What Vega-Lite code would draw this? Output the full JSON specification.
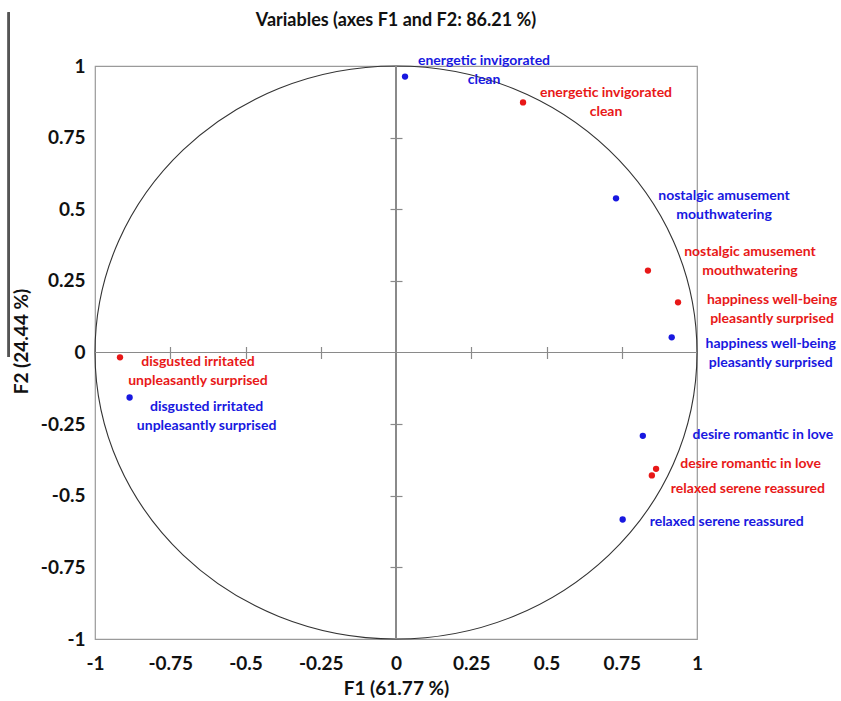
{
  "$schema": "https://vega.github.io/schema/vega-lite/v6.json",
  "width": 602,
  "height": 573,
  "autosize": "none",
  "padding": {"left": 95, "top": 66, "right": 144, "bottom": 62},
  "background": "white",
  "config": {
    "view": {"stroke": "#9a9a9a", "strokeWidth": 1.2},
    "font": "Lato"
  },
  "title": {
    "text": "Variables (axes F1 and F2: 86.21 %)",
    "font": "Lato",
    "fontSize": 18,
    "fontWeight": "bold",
    "color": "#111",
    "anchor": "middle",
    "baseline": "middle",
    "offset": -28
  },
  "data": {
    "values": [
      {"id": "b_ener", "group": "G1", "f1": 0.03, "f2": 0.963, "label": "energetic  invigorated|clean"},
      {"id": "r_ener", "group": "G2", "f1": 0.422, "f2": 0.873, "label": "energetic invigorated|clean"},
      {"id": "b_nost", "group": "G1", "f1": 0.731, "f2": 0.538, "label": "nostalgic  amusement|mouthwatering"},
      {"id": "r_nost", "group": "G2", "f1": 0.837, "f2": 0.286, "label": "nostalgic amusement|mouthwatering"},
      {"id": "r_happ", "group": "G2", "f1": 0.937, "f2": 0.175, "label": "happiness well-being|pleasantly surprised"},
      {"id": "b_happ", "group": "G1", "f1": 0.916, "f2": 0.053, "label": "happiness well-being|pleasantly surprised"},
      {"id": "r_disg", "group": "G2", "f1": -0.917, "f2": -0.017, "label": "disgusted irritated|unpleasantly surprised"},
      {"id": "b_disg", "group": "G1", "f1": -0.885, "f2": -0.157, "label": "disgusted  irritated|unpleasantly surprised"},
      {"id": "b_desi", "group": "G1", "f1": 0.82, "f2": -0.291, "label": "desire romantic in love"},
      {"id": "r_desi", "group": "G2", "f1": 0.864, "f2": -0.406, "label": "desire romantic in love"},
      {"id": "r_rela", "group": "G2", "f1": 0.85, "f2": -0.429, "label": "relaxed serene reassured"},
      {"id": "b_rela", "group": "G1", "f1": 0.753, "f2": -0.583, "label": "relaxed serene reassured"}
    ]
  },
  "resolve": {"axis": {"x": "independent", "y": "independent"}},
  "layer": [
    {
      "data": {"values": [{"f1": 0, "f2": 0}]},
      "mark": {
        "type": "point",
        "shape": "M 1 0 C 1 0.5257 0.5523 0.9518 0 0.9518 C -0.5523 0.9518 -1 0.5257 -1 0 C -1 -0.5257 -0.5523 -0.9518 0 -0.9518 C 0.5523 -0.9518 1 -0.5257 1 0 Z",
        "size": 362404,
        "filled": false,
        "stroke": "#333333",
        "strokeWidth": 1.1,
        "opacity": 1
      },
      "encoding": {
        "x": {
          "field": "f1", "type": "quantitative",
          "scale": {"domain": [-1, 1], "nice": false, "zero": false},
          "axis": {
            "orient": "bottom",
            "values": [-1, -0.75, -0.5, -0.25, 0, 0.25, 0.5, 0.75, 1],
            "labelExpr": "'' + datum.value",
            "ticks": false, "domain": false, "grid": false,
            "labelFlush": false,
            "labelFont": "Lato", "labelFontSize": 19, "labelFontWeight": "bold", "labelColor": "#111",
            "labelPadding": 15,
            "title": "F1 (61.77 %)",
            "titleFont": "Lato", "titleFontSize": 19, "titleFontWeight": "bold", "titleColor": "#111",
            "titleY": 49, "titleBaseline": "middle"
          }
        },
        "y": {
          "field": "f2", "type": "quantitative",
          "scale": {"domain": [-1, 1], "nice": false, "zero": false},
          "axis": {
            "orient": "left",
            "values": [-1, -0.75, -0.5, -0.25, 0, 0.25, 0.5, 0.75, 1],
            "labelExpr": "'' + datum.value",
            "ticks": false, "domain": false, "grid": false,
            "labelFlush": false,
            "labelFont": "Lato", "labelFontSize": 19, "labelFontWeight": "bold", "labelColor": "#111",
            "labelPadding": 10,
            "title": "F2 (24.44 %)",
            "titleFont": "Lato", "titleFontSize": 19, "titleFontWeight": "bold", "titleColor": "#111",
            "titleX": -74, "titleY": 275, "titleAngle": 270, "titleAlign": "center", "titleBaseline": "middle"
          }
        }
      }
    },
    {
      "mark": {"type": "rule", "color": "#8a8a8a", "strokeWidth": 1.2},
      "encoding": {"x": {"datum": 0, "type": "quantitative", "axis": null}}
    },
    {
      "mark": {"type": "rule", "color": "#8a8a8a", "strokeWidth": 1.2},
      "encoding": {"y": {"datum": 0, "type": "quantitative", "axis": null}}
    },
    {
      "mark": {"type": "rule", "color": "#555555", "strokeWidth": 1.5, "clip": false},
      "encoding": {
        "x": {"datum": -1.287, "type": "quantitative", "axis": null},
        "y": {"datum": 1.188, "type": "quantitative", "axis": null},
        "y2": {"datum": -0.016}
      }
    },
    {
      "mark": {"type": "point", "filled": true, "size": 40, "opacity": 1},
      "encoding": {
        "x": {
          "field": "f1", "type": "quantitative",
          "axis": {
            "orient": "bottom", "offset": -292.5,
            "values": [-0.75, -0.5, -0.25, 0.25, 0.5, 0.75],
            "labels": false, "domain": false, "grid": false, "title": null,
            "ticks": true, "tickSize": 12, "tickColor": "#8a8a8a", "tickWidth": 1.2
          }
        },
        "y": {
          "field": "f2", "type": "quantitative",
          "axis": {
            "orient": "left", "offset": -307,
            "values": [-0.75, -0.5, -0.25, 0.25, 0.5, 0.75],
            "labels": false, "domain": false, "grid": false, "title": null,
            "ticks": true, "tickSize": 12, "tickColor": "#8a8a8a", "tickWidth": 1.2
          }
        },
        "color": {"field": "group", "type": "nominal", "scale": {"domain": ["G1", "G2"], "range": ["#1818e0", "#e81818"]}, "legend": null}
      }
    },
    {"transform": [{"filter": "datum.id === 'b_ener'"}], "mark": {"type": "text", "dx": 79, "dy": -16, "align": "center", "baseline": "middle", "lineBreak": "|", "lineHeight": 19, "font": "Lato", "fontSize": 14, "fontWeight": "bold"}, "encoding": {"x": {"field": "f1", "type": "quantitative", "axis": null}, "y": {"field": "f2", "type": "quantitative", "axis": null}, "text": {"field": "label"}, "color": {"field": "group", "type": "nominal", "legend": null}}},
    {"transform": [{"filter": "datum.id === 'r_ener'"}], "mark": {"type": "text", "dx": 83, "dy": -9, "align": "center", "baseline": "middle", "lineBreak": "|", "lineHeight": 19, "font": "Lato", "fontSize": 14, "fontWeight": "bold"}, "encoding": {"x": {"field": "f1", "type": "quantitative", "axis": null}, "y": {"field": "f2", "type": "quantitative", "axis": null}, "text": {"field": "label"}, "color": {"field": "group", "type": "nominal", "legend": null}}},
    {"transform": [{"filter": "datum.id === 'b_nost'"}], "mark": {"type": "text", "dx": 108, "dy": -2, "align": "center", "baseline": "middle", "lineBreak": "|", "lineHeight": 19, "font": "Lato", "fontSize": 14, "fontWeight": "bold"}, "encoding": {"x": {"field": "f1", "type": "quantitative", "axis": null}, "y": {"field": "f2", "type": "quantitative", "axis": null}, "text": {"field": "label"}, "color": {"field": "group", "type": "nominal", "legend": null}}},
    {"transform": [{"filter": "datum.id === 'r_nost'"}], "mark": {"type": "text", "dx": 102, "dy": -19, "align": "center", "baseline": "middle", "lineBreak": "|", "lineHeight": 19, "font": "Lato", "fontSize": 14, "fontWeight": "bold"}, "encoding": {"x": {"field": "f1", "type": "quantitative", "axis": null}, "y": {"field": "f2", "type": "quantitative", "axis": null}, "text": {"field": "label"}, "color": {"field": "group", "type": "nominal", "legend": null}}},
    {"transform": [{"filter": "datum.id === 'r_happ'"}], "mark": {"type": "text", "dx": 94, "dy": -2, "align": "center", "baseline": "middle", "lineBreak": "|", "lineHeight": 19, "font": "Lato", "fontSize": 14, "fontWeight": "bold"}, "encoding": {"x": {"field": "f1", "type": "quantitative", "axis": null}, "y": {"field": "f2", "type": "quantitative", "axis": null}, "text": {"field": "label"}, "color": {"field": "group", "type": "nominal", "legend": null}}},
    {"transform": [{"filter": "datum.id === 'b_happ'"}], "mark": {"type": "text", "dx": 99, "dy": 7, "align": "center", "baseline": "middle", "lineBreak": "|", "lineHeight": 19, "font": "Lato", "fontSize": 14, "fontWeight": "bold"}, "encoding": {"x": {"field": "f1", "type": "quantitative", "axis": null}, "y": {"field": "f2", "type": "quantitative", "axis": null}, "text": {"field": "label"}, "color": {"field": "group", "type": "nominal", "legend": null}}},
    {"transform": [{"filter": "datum.id === 'r_disg'"}], "mark": {"type": "text", "dx": 78, "dy": 5, "align": "center", "baseline": "middle", "lineBreak": "|", "lineHeight": 19, "font": "Lato", "fontSize": 14, "fontWeight": "bold"}, "encoding": {"x": {"field": "f1", "type": "quantitative", "axis": null}, "y": {"field": "f2", "type": "quantitative", "axis": null}, "text": {"field": "label"}, "color": {"field": "group", "type": "nominal", "legend": null}}},
    {"transform": [{"filter": "datum.id === 'b_disg'"}], "mark": {"type": "text", "dx": 77, "dy": 10, "align": "center", "baseline": "middle", "lineBreak": "|", "lineHeight": 19, "font": "Lato", "fontSize": 14, "fontWeight": "bold"}, "encoding": {"x": {"field": "f1", "type": "quantitative", "axis": null}, "y": {"field": "f2", "type": "quantitative", "axis": null}, "text": {"field": "label"}, "color": {"field": "group", "type": "nominal", "legend": null}}},
    {"transform": [{"filter": "datum.id === 'b_desi'"}], "mark": {"type": "text", "dx": 120, "dy": -1, "align": "center", "baseline": "middle", "lineBreak": "|", "lineHeight": 19, "font": "Lato", "fontSize": 14, "fontWeight": "bold"}, "encoding": {"x": {"field": "f1", "type": "quantitative", "axis": null}, "y": {"field": "f2", "type": "quantitative", "axis": null}, "text": {"field": "label"}, "color": {"field": "group", "type": "nominal", "legend": null}}},
    {"transform": [{"filter": "datum.id === 'r_desi'"}], "mark": {"type": "text", "dx": 94.5, "dy": -5, "align": "center", "baseline": "middle", "lineBreak": "|", "lineHeight": 19, "font": "Lato", "fontSize": 14, "fontWeight": "bold"}, "encoding": {"x": {"field": "f1", "type": "quantitative", "axis": null}, "y": {"field": "f2", "type": "quantitative", "axis": null}, "text": {"field": "label"}, "color": {"field": "group", "type": "nominal", "legend": null}}},
    {"transform": [{"filter": "datum.id === 'r_rela'"}], "mark": {"type": "text", "dx": 96, "dy": 14, "align": "center", "baseline": "middle", "lineBreak": "|", "lineHeight": 19, "font": "Lato", "fontSize": 14, "fontWeight": "bold"}, "encoding": {"x": {"field": "f1", "type": "quantitative", "axis": null}, "y": {"field": "f2", "type": "quantitative", "axis": null}, "text": {"field": "label"}, "color": {"field": "group", "type": "nominal", "legend": null}}},
    {"transform": [{"filter": "datum.id === 'b_rela'"}], "mark": {"type": "text", "dx": 104, "dy": 2, "align": "center", "baseline": "middle", "lineBreak": "|", "lineHeight": 19, "font": "Lato", "fontSize": 14, "fontWeight": "bold"}, "encoding": {"x": {"field": "f1", "type": "quantitative", "axis": null}, "y": {"field": "f2", "type": "quantitative", "axis": null}, "text": {"field": "label"}, "color": {"field": "group", "type": "nominal", "legend": null}}}
  ]
}
